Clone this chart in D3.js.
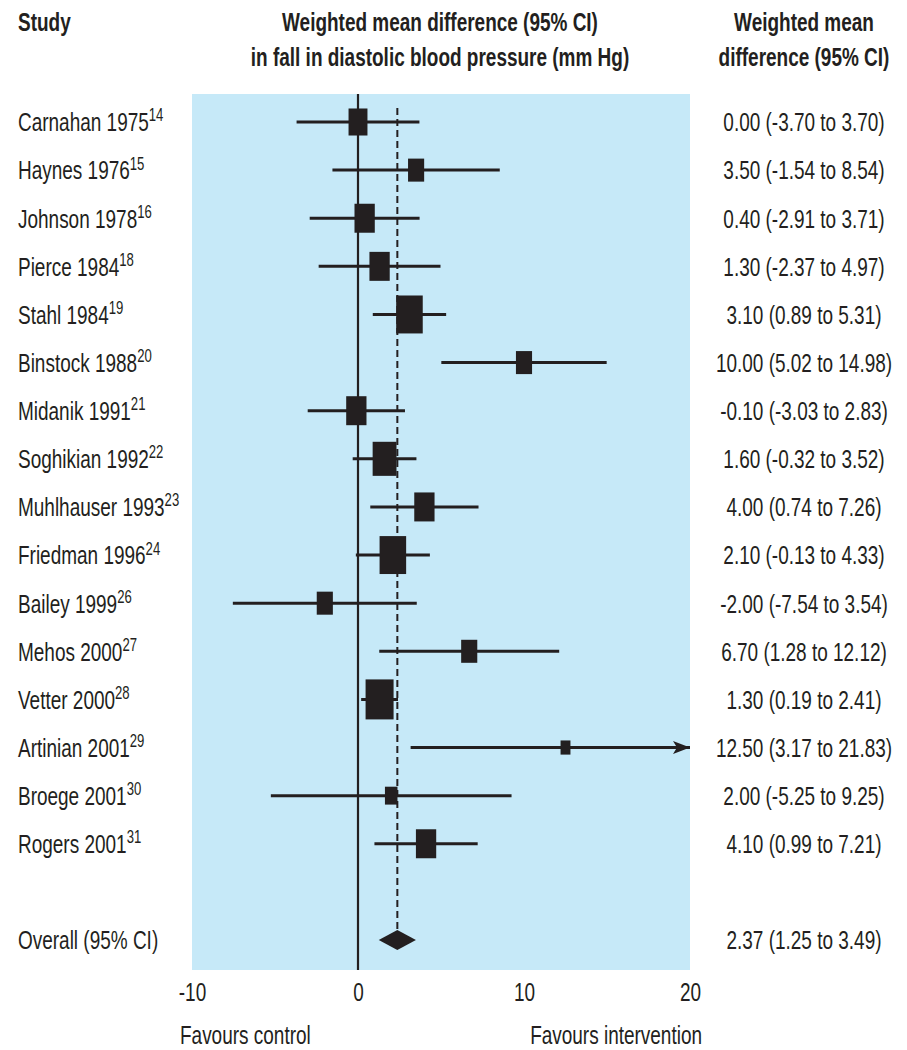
<!DOCTYPE html>
<html>
<head>
<meta charset="utf-8">
<script src="https://cdn.jsdelivr.net/npm/d3@7"></script>
<style>
  html, body { margin: 0; padding: 0; background: #ffffff; }
  svg text { font-family: "Liberation Sans", Arial, Helvetica, sans-serif; fill: #231f20; }
</style>
</head>
<body>
<svg id="chart" width="907" height="1050"></svg>
<script>
// Study labels and reference numbers
const studies = ["Carnahan 1975", "Haynes 1976", "Johnson 1978", "Pierce 1984", "Stahl 1984",
  "Binstock 1988", "Midanik 1991", "Soghikian 1992", "Muhlhauser 1993", "Friedman 1996",
  "Bailey 1999", "Mehos 2000", "Vetter 2000", "Artinian 2001", "Broege 2001", "Rogers 2001"];
const refs = ["14", "15", "16", "18", "19", "20", "21", "22", "23", "24", "26", "27", "28", "29", "30", "31"];

// Weighted mean difference and 95% CI for each study
const wmd   = [0.00, 3.50, 0.40, 1.30, 3.10, 10.00, -0.10, 1.60, 4.00, 2.10, -2.00, 6.70, 1.30, 12.50, 2.00, 4.10];
const lower = [-3.70, -1.54, -2.91, -2.37, 0.89, 5.02, -3.03, -0.32, 0.74, -0.13, -7.54, 1.28, 0.19, 3.17, -5.25, 0.99];
const upper = [3.70, 8.54, 3.71, 4.97, 5.31, 14.98, 2.83, 3.52, 7.26, 4.33, 3.54, 12.12, 2.41, 21.83, 9.25, 7.21];

// Relative study weights (box area)
const relWeight = [7.3, 5.3, 8.4, 8.4, 14.4, 5.3, 8.4, 11.6, 8.4, 14.4, 5.3, 5.3, 16.0, 2.0, 3.2, 8.4];

// Pooled estimate
const overallLabel = "Overall (95% CI)";
const overall = { est: 2.37, lo: 1.25, hi: 3.49 };

const xTicks = [-10, 0, 10, 20];
const xDomain = [-10, 20];

const svg = d3.select("#chart");
const ink = "#231f20";
const fs = 26;      // base font size
const sx = 0.73;    // horizontal condensing of the type

const locale = d3.formatLocale({ decimal: ".", thousands: ",", grouping: [3], currency: ["", ""], minus: "-" });
const fmt = locale.format(".2f");
const tickFmt = locale.format("d");

const x = d3.scaleLinear().domain(xDomain).range([192, 690]);
const rowIndex = d3.range(studies.length + 2);
const y = d3.scalePoint().domain(rowIndex).range([122, 940]);
const boxH = d3.scaleSqrt().domain([0, d3.max(relWeight)]).range([0, 40]);
const boxAspect = 0.7;

const panelTop = 94, panelBottom = 970;

// Place condensed text at (px, py)
function place(sel, px, py) {
  return sel.attr("transform", (d, i) => {
    const X = typeof px === "function" ? px(d, i) : px;
    const Y = typeof py === "function" ? py(d, i) : py;
    return `translate(${X},${Y}) scale(${sx},1)`;
  });
}

// Shaded plot panel
svg.append("rect")
  .attr("x", x(xDomain[0])).attr("y", panelTop)
  .attr("width", x(xDomain[1]) - x(xDomain[0]))
  .attr("height", panelBottom - panelTop)
  .attr("fill", "#c6e9f8");

// Line of no effect
svg.append("line")
  .attr("x1", x(0)).attr("x2", x(0))
  .attr("y1", panelTop).attr("y2", panelBottom)
  .attr("stroke", ink).attr("stroke-width", 2.2);

// Pooled estimate reference line
svg.append("line")
  .attr("x1", x(overall.est)).attr("x2", x(overall.est))
  .attr("y1", 108).attr("y2", y(studies.length + 1) - 10)
  .attr("stroke", ink).attr("stroke-width", 2)
  .attr("stroke-dasharray", "7,4");

// Arrow marker for intervals running off the scale
svg.append("defs").append("marker")
  .attr("id", "arrow")
  .attr("viewBox", "0 0 17 13")
  .attr("refX", 17).attr("refY", 6.5)
  .attr("markerWidth", 17).attr("markerHeight", 13)
  .attr("markerUnits", "userSpaceOnUse")
  .attr("orient", "auto")
  .append("path")
  .attr("d", "M0,0 L17,6.5 L0,13 L4,6.5 Z")
  .attr("fill", ink);

const data = studies.map((s, i) => ({
  name: s, ref: refs[i], est: wmd[i], lo: lower[i], hi: upper[i], w: relWeight[i], row: i
}));

const rows = svg.append("g").selectAll("g").data(data).join("g");

// Confidence interval whiskers
rows.append("line")
  .attr("x1", d => x(Math.max(d.lo, xDomain[0])))
  .attr("x2", d => x(Math.min(d.hi, xDomain[1])))
  .attr("y1", d => y(d.row)).attr("y2", d => y(d.row))
  .attr("stroke", ink).attr("stroke-width", 3)
  .attr("marker-end", d => d.hi > xDomain[1] ? "url(#arrow)" : null);

// Weighted point estimates
rows.append("rect")
  .attr("x", d => x(d.est) - boxH(d.w) * boxAspect / 2)
  .attr("y", d => y(d.row) - boxH(d.w) / 2)
  .attr("width", d => boxH(d.w) * boxAspect)
  .attr("height", d => boxH(d.w))
  .attr("fill", ink);

// Pooled diamond
const oy = y(studies.length + 1);
svg.append("path")
  .attr("d", `M${x(overall.lo)},${oy} L${x(overall.est)},${oy - 10} L${x(overall.hi)},${oy} L${x(overall.est)},${oy + 10} Z`)
  .attr("fill", ink);

// Study labels with superscript reference numbers
const lab = place(rows.append("text"), 18, d => y(d.row))
  .attr("dy", "0.36em")
  .style("font-size", fs + "px");
lab.append("tspan").text(d => d.name);
lab.append("tspan").attr("dy", "-0.55em").style("font-size", "18px").text(d => d.ref);

place(svg.append("text"), 18, oy)
  .attr("dy", "0.36em")
  .style("font-size", fs + "px")
  .text(overallLabel);

// Estimate and CI text column
place(rows.append("text"), 804, d => y(d.row))
  .attr("dy", "0.36em")
  .attr("text-anchor", "middle")
  .style("font-size", fs + "px")
  .text(d => `${fmt(d.est)} (${fmt(d.lo)} to ${fmt(d.hi)})`);

place(svg.append("text"), 804, oy)
  .attr("dy", "0.36em")
  .attr("text-anchor", "middle")
  .style("font-size", fs + "px")
  .text(`${fmt(overall.est)} (${fmt(overall.lo)} to ${fmt(overall.hi)})`);

// Column headers
const header = svg.append("g").style("font-weight", "bold").style("font-size", fs + "px");
place(header.append("text"), 18, 31).text("Study");
place(header.append("text"), 440, 31).attr("text-anchor", "middle")
  .text("Weighted mean difference (95% CI)");
place(header.append("text"), 440, 66).attr("text-anchor", "middle")
  .text("in fall in diastolic blood pressure (mm Hg)");
place(header.append("text"), 804, 31).attr("text-anchor", "middle")
  .text("Weighted mean");
place(header.append("text"), 804, 66).attr("text-anchor", "middle")
  .text("difference (95% CI)");

// X axis tick labels
const axis = svg.append("g")
  .attr("transform", `translate(0,${panelBottom})`)
  .call(d3.axisBottom(x).tickValues(xTicks).tickSize(0).tickPadding(13).tickFormat(tickFmt));
axis.attr("font-family", null).attr("font-size", null);
axis.select(".domain").remove();
axis.selectAll("text")
  .attr("fill", null)
  .attr("transform", `scale(${sx},1)`)
  .style("font-size", fs + "px");

// Direction captions
place(svg.append("text"), 180, 1044)
  .style("font-size", fs + "px").text("Favours control");
place(svg.append("text"), 702, 1044).attr("text-anchor", "end")
  .style("font-size", fs + "px").text("Favours intervention");
</script>
</body>
</html>
